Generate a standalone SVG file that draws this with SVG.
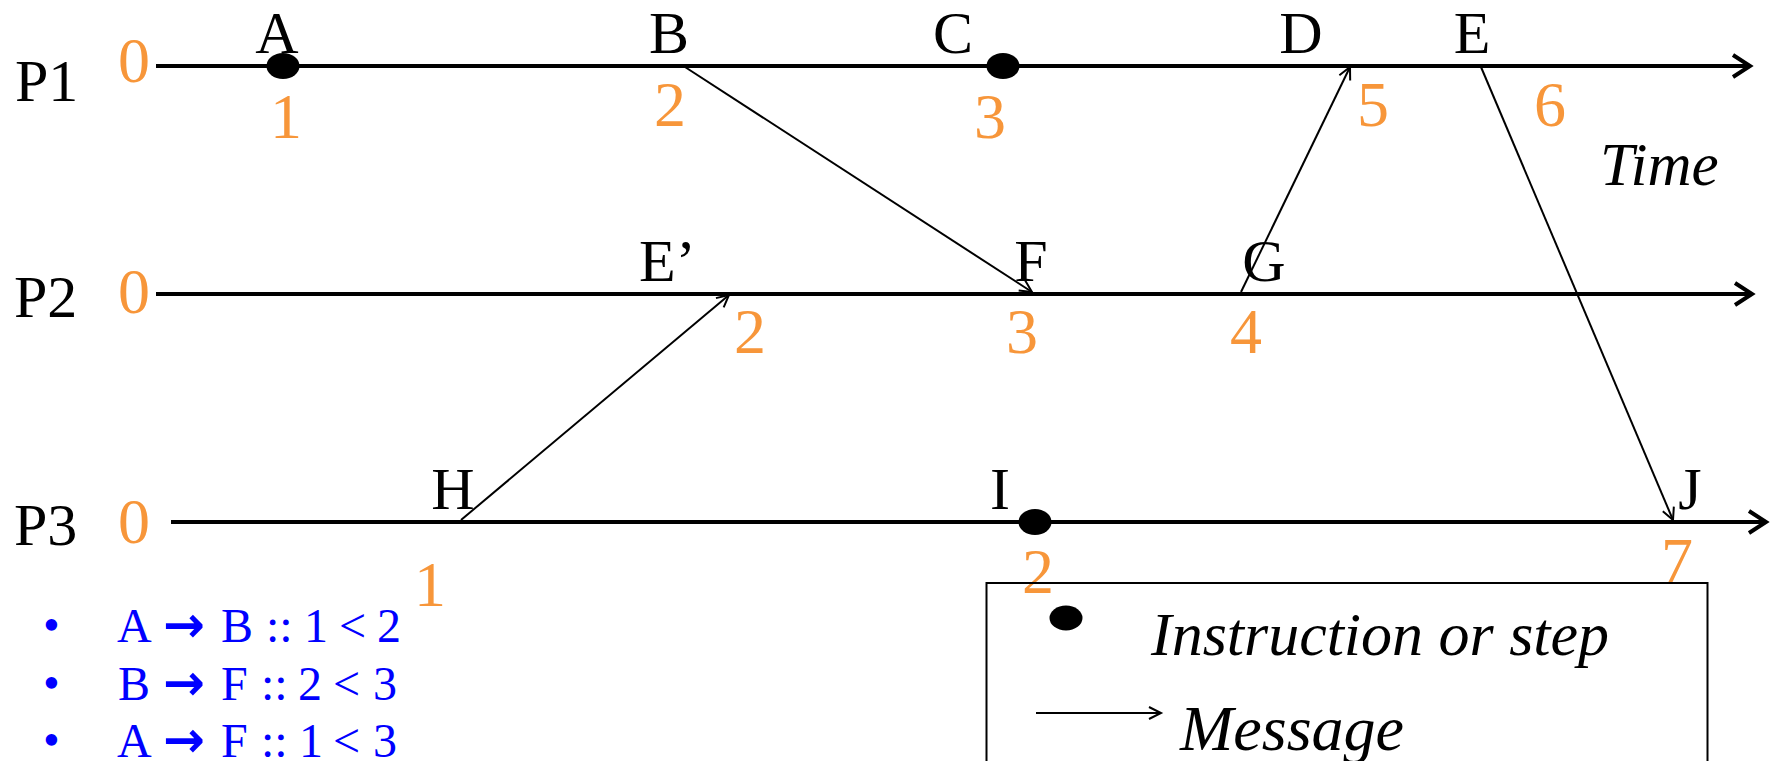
<svg xmlns="http://www.w3.org/2000/svg" width="1775" height="761" viewBox="0 0 1775 761">
<style>
.lbl{font-family:"Liberation Serif","Times New Roman",serif;font-size:60px;fill:#000}
.num{font-family:"Liberation Serif","Times New Roman",serif;font-size:64px;fill:#F7963A;text-anchor:middle}
.mid{text-anchor:middle}
.it{font-family:"Liberation Serif","Times New Roman",serif;font-style:italic;fill:#000}
.bul{font-family:"Liberation Serif","Times New Roman",serif;font-size:48px;fill:#0000FF}
.arr{font-family:"DejaVu Sans",sans-serif;font-weight:bold;font-size:50px}
.proc{stroke:#000;stroke-width:4;fill:none}
.msg{stroke:#000;stroke-width:2;fill:none}
.dot{fill:#000}
</style>
<defs>
<marker id="mh" markerUnits="userSpaceOnUse" markerWidth="30" markerHeight="30" viewBox="-20 -15 30 30" refX="0" refY="0" orient="auto">
<path d="M-12,-6 L0,0 L-12,6" fill="none" stroke="#000" stroke-width="2"/>
</marker>
<marker id="ph" markerUnits="userSpaceOnUse" markerWidth="40" markerHeight="40" viewBox="-25 -20 40 40" refX="0" refY="0" orient="auto">
<path d="M-17,-11 L0,0 L-17,11" fill="none" stroke="#000" stroke-width="4"/>
</marker>
</defs>

<g id="processes">
<g id="P1">
<text class="lbl" x="15" y="101">P1</text>
<text class="num" x="134" y="82">0</text>
<line class="proc" x1="156" y1="66" x2="1750" y2="66" marker-end="url(#ph)"/>
</g>
<g id="P2">
<text class="lbl" x="14" y="317">P2</text>
<text class="num" x="134" y="313">0</text>
<line class="proc" x1="156" y1="294" x2="1752" y2="294" marker-end="url(#ph)"/>
</g>
<g id="P3">
<text class="lbl" x="14" y="545">P3</text>
<text class="num" x="134" y="543">0</text>
<line class="proc" x1="171" y1="522" x2="1766" y2="522" marker-end="url(#ph)"/>
</g>
</g>

<g id="connectors">
<line class="msg" x1="685" y1="67" x2="1032" y2="292" marker-end="url(#mh)"/>
<line class="msg" x1="461" y1="520" x2="729" y2="295" marker-end="url(#mh)"/>
<line class="msg" x1="1241" y1="292" x2="1350" y2="67" marker-end="url(#mh)"/>
<line class="msg" x1="1481" y1="67" x2="1673" y2="520" marker-end="url(#mh)"/>
</g>

<g id="event-A"><ellipse class="dot" cx="283" cy="66" rx="16.5" ry="13"/><text class="lbl mid" x="277" y="53">A</text><text class="num" x="286" y="138">1</text></g>
<g id="event-B"><text class="lbl mid" x="669" y="53">B</text><text class="num" x="670" y="126">2</text></g>
<g id="event-C"><ellipse class="dot" cx="1003" cy="66" rx="16.5" ry="13"/><text class="lbl mid" x="953" y="53">C</text><text class="num" x="990" y="138">3</text></g>
<g id="event-D"><text class="lbl mid" x="1301" y="53">D</text><text class="num" x="1373" y="126">5</text></g>
<g id="event-E"><text class="lbl mid" x="1472" y="53">E</text><text class="num" x="1550" y="126">6</text></g>
<g id="event-E2"><text class="lbl" x="639" y="281">E’</text><text class="num" x="750" y="353">2</text></g>
<g id="event-F"><text class="lbl mid" x="1031" y="281">F</text><text class="num" x="1022" y="353">3</text></g>
<g id="event-G"><text class="lbl mid" x="1264" y="281">G</text><text class="num" x="1246" y="353">4</text></g>
<g id="event-H"><text class="lbl mid" x="453" y="509">H</text><text class="num" x="430" y="606">1</text></g>
<g id="event-I"><ellipse class="dot" cx="1035" cy="522" rx="16.5" ry="13"/><text class="lbl mid" x="1000" y="509">I</text><text class="num" x="1038" y="593">2</text></g>
<g id="event-J"><text class="lbl mid" x="1690" y="509">J</text><text class="num" x="1677" y="582">7</text></g>

<text id="time" class="it" font-size="61" x="1600" y="185">Time</text>

<g id="legend">
<rect x="986.5" y="583" width="721" height="200" fill="none" stroke="#000" stroke-width="2"/>
<ellipse class="dot" cx="1066" cy="618" rx="16.5" ry="12.5"/>
<text class="it" font-size="62" x="1151" y="655">Instruction or step</text>
<line class="msg" x1="1036" y1="713" x2="1161" y2="713" marker-end="url(#mh)"/>
<text class="it" font-size="64" x="1180" y="750">Message</text>
</g>

<g id="notes">
<text class="bul" x="43" y="641">•</text>
<text class="bul" y="642"><tspan x="117">A</tspan><tspan class="arr" x="163">→</tspan><tspan x="221">B</tspan><tspan x="266">::</tspan><tspan x="304">1</tspan><tspan x="339">&lt;</tspan><tspan x="377">2</tspan></text>
<text class="bul" x="43" y="699">•</text>
<text class="bul" y="700"><tspan x="118">B</tspan><tspan class="arr" x="163">→</tspan><tspan x="221">F</tspan><tspan x="261">::</tspan><tspan x="298">2</tspan><tspan x="333">&lt;</tspan><tspan x="373">3</tspan></text>
<text class="bul" x="43" y="756">•</text>
<text class="bul" y="757"><tspan x="117">A</tspan><tspan class="arr" x="163">→</tspan><tspan x="221">F</tspan><tspan x="261">::</tspan><tspan x="299">1</tspan><tspan x="333">&lt;</tspan><tspan x="373">3</tspan></text>
</g>
</svg>
